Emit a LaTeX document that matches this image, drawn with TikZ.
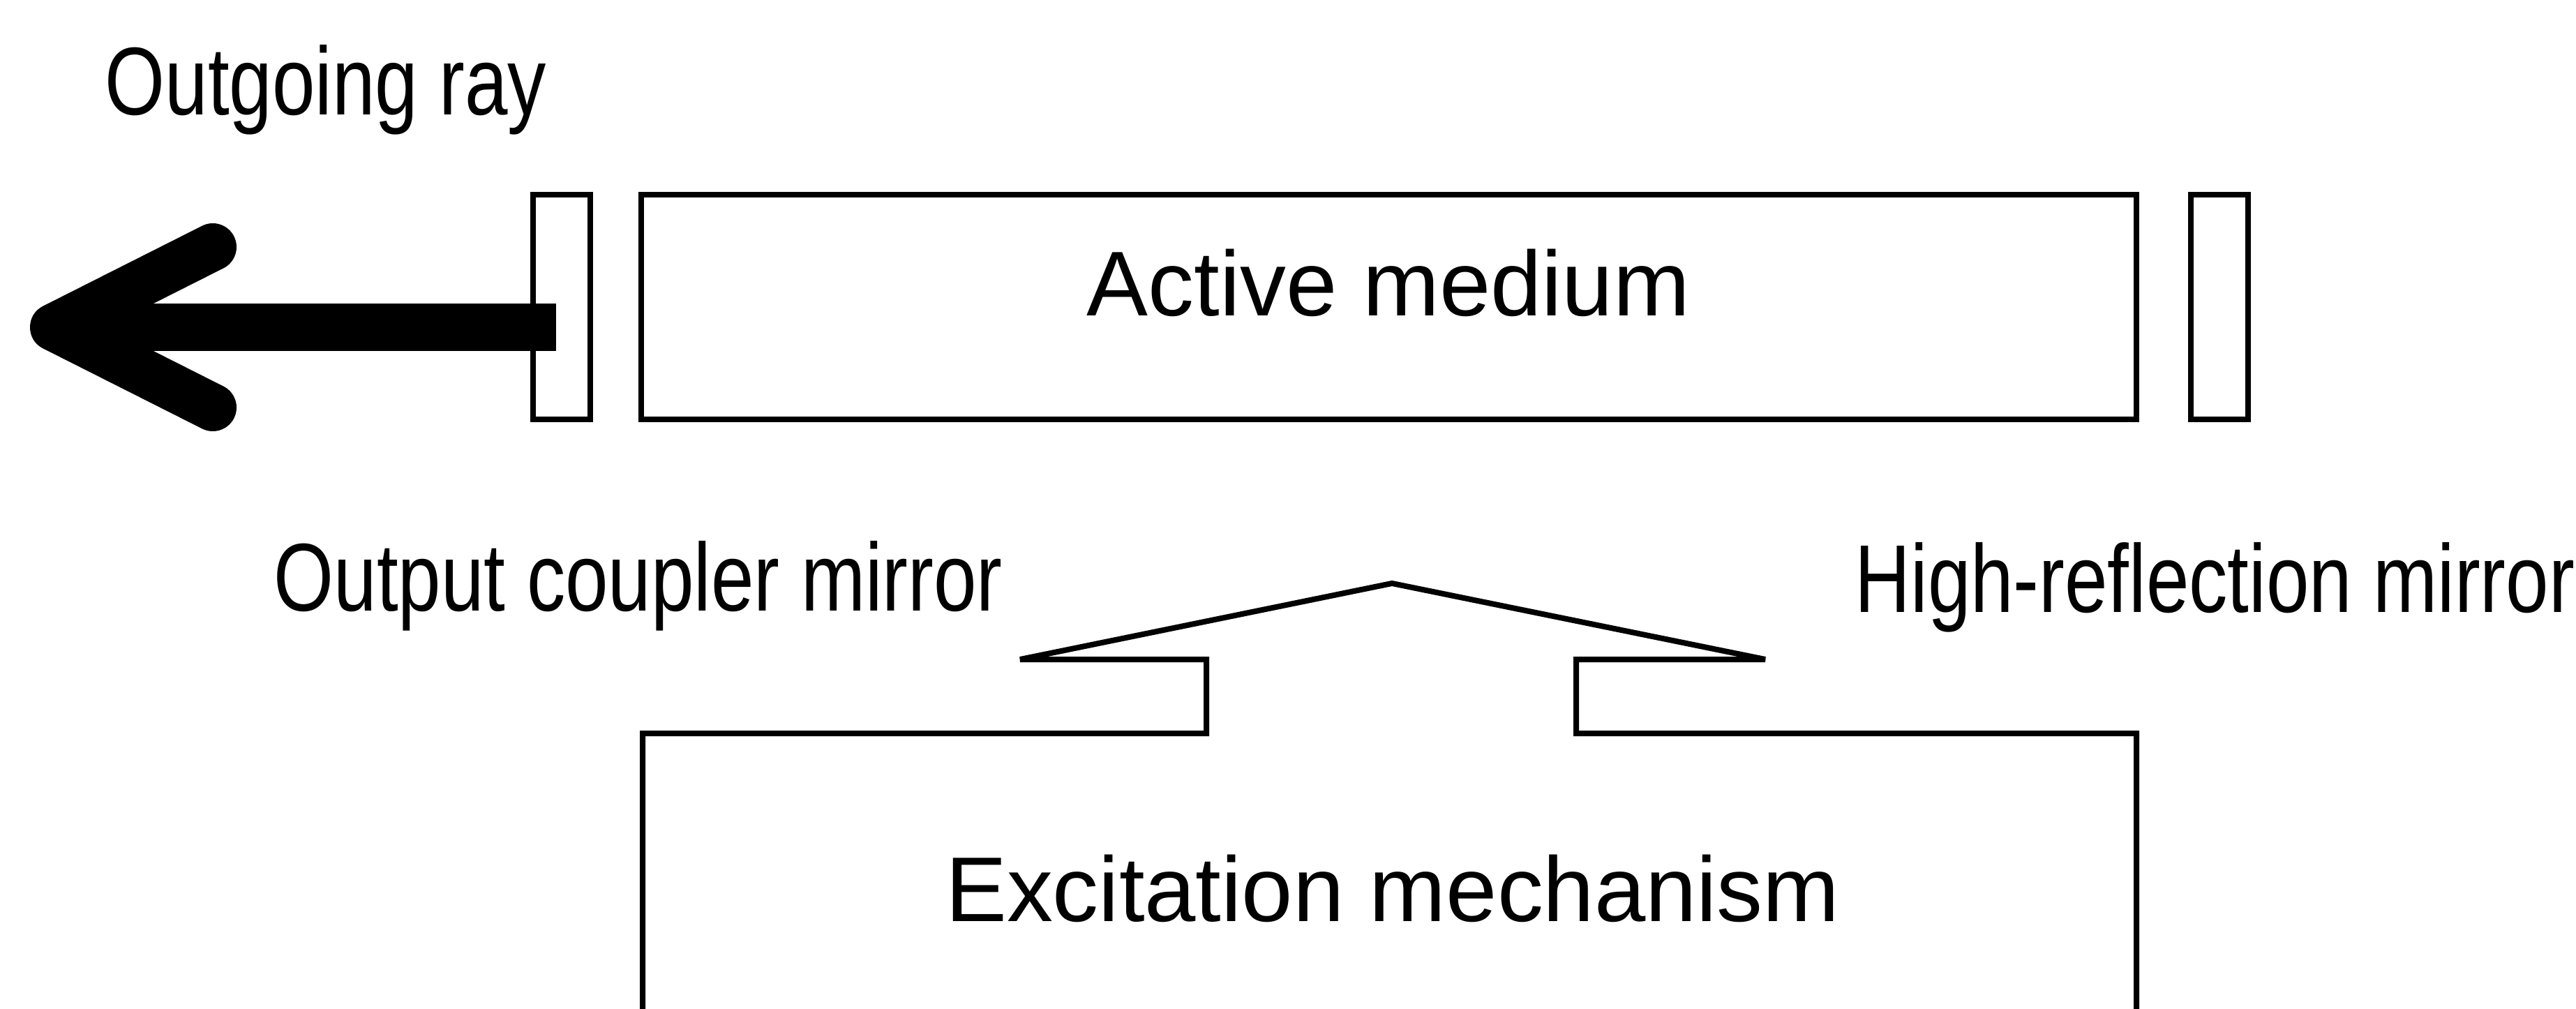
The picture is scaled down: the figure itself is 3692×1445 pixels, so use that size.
\documentclass[tikz,border=0pt]{standalone}
\usepackage{fontspec}
\setmainfont{Liberation Sans}
\newfontfamily\narrowfont[FakeStretch=0.8]{Liberation Sans}
\begin{document}
\begin{tikzpicture}[x=0.1mm,y=-0.1mm,
  outline/.style={draw=black,line width=0.8mm,line join=miter,miter limit=4},
  mirrorbox/.style={outline,rectangle,inner sep=0pt,minimum width=8.2mm,minimum height=32.2mm},
  bigtext/.style={inner sep=0pt,anchor=base,font=\fontsize{37.5}{45}\selectfont},
  smalltext/.style={inner sep=0pt,anchor=base west,font=\narrowfont\fontsize{39.3}{47}\selectfont}]
  % page frame
  \clip (0,0) rectangle (3692,1445);
  \fill[white] (0,0) rectangle (3692,1445);

  % resonator: output coupler, active medium, high reflector
  \node[mirrorbox] (oc) at (805,440) {};
  \node[outline,rectangle,inner sep=0pt,minimum width=214.3mm,minimum height=32.2mm] (medium) at (1990.5,440) {};
  \node[mirrorbox] (hr) at (3181,440) {};
  \node[bigtext] (mediumtext) at (1990,452) {Active medium};

  % outgoing beam leaving through the output coupler
  \coordinate (tip) at (77,469);
  \coordinate (barbU) at (305,354);
  \coordinate (barbD) at (305,584);
  \coordinate (shaftend) at (797,503);
  \fill (tip |- 0,435) rectangle (shaftend);
  \draw[line width=6.8mm,line cap=round,line join=round] (barbU) -- (tip) -- (barbD);

  % pump housing with the roof-shaped arrow pointing at the medium
  \coordinate (apex) at (1995,836);
  \draw[outline] (921,1520) -- (921,1051) -- (1729,1051) -- (1729,945) -- (1462,945)
    -- (apex) -- (2530,945) -- (2259,945) -- (2259,1051) -- (3062,1051) -- (3062,1520);
  \node[bigtext] (pumptext) at (1996,1320) {Excitation mechanism};

  % labels
  \node[smalltext] (raylabel) at (150,165) {Outgoing ray};
  \node[smalltext] (oclabel) at (392,875) {Output coupler mirror};
  \node[smalltext] (hrlabel) at (2658,877) {High-reflection mirror};
\end{tikzpicture}
\end{document}
